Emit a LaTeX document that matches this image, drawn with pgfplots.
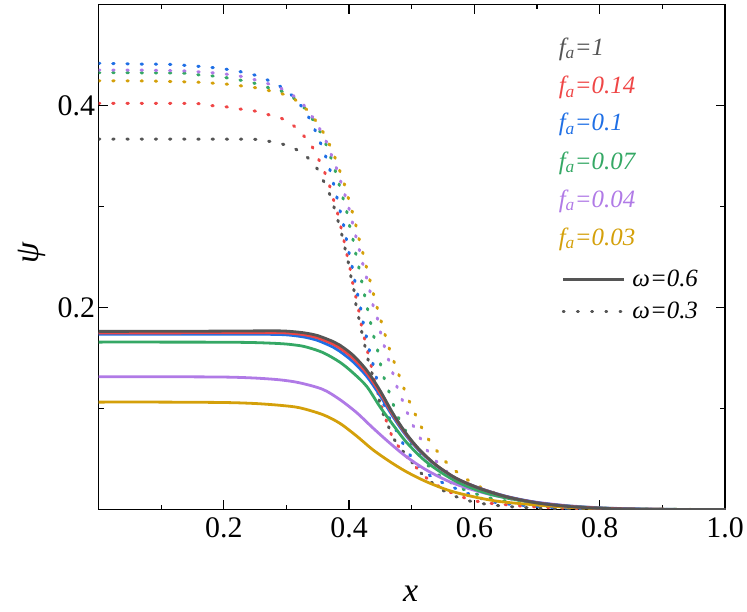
\documentclass[border=0pt]{standalone}
\usepackage{fontspec}
\setmainfont{Liberation Serif}
\usepackage{pgfplots}
\pgfplotsset{compat=1.18}

\definecolor{cGray}{HTML}{555555}
\definecolor{cRed}{HTML}{EF4646}
\definecolor{cBlue}{HTML}{1F6FE5}
\definecolor{cGreen}{HTML}{35A865}
\definecolor{cPurple}{HTML}{B07AE6}
\definecolor{cGold}{HTML}{D4A00A}

\pgfplotsset{
  solidc/.style={line width=2.8bp},
  dotc/.style={line width=3bp, line cap=round, dash pattern=on 1.4bp off 12.8bp},
}

\begin{document}
\begin{tikzpicture}
\begin{axis}[
    scale only axis,
    width=627bp, height=505.5bp,
    xmin=0, xmax=1, ymin=0, ymax=0.5,
    xtick={0.2,0.4,0.6,0.8,1.0},
    minor xtick={0.1,0.3,0.5,0.7,0.9},
    ytick={0.2,0.4},
    minor ytick={0.1,0.3},
    tick align=inside,
    major tick length=9.5bp, minor tick length=5bp,
    every tick/.style={black, line width=1.3bp},
    axis line style={line width=1.3bp},
    /pgf/number format/assume math mode=true,
    every tick label/.append style={font=\fontsize{30}{36}\selectfont},
    xticklabel style={yshift=-5bp, /pgf/number format/.cd, fixed, fixed zerofill, precision=1},
    yticklabel style={/pgf/number format/.cd, fixed, fixed zerofill, precision=1},
    xlabel={\textit{x}},
    ylabel={\textit{ψ}},
    every axis label/.append style={font=\fontsize{34}{40}\selectfont},
    xlabel style={at={(axis description cs:0.498,0)}, anchor=base, yshift=-92bp},
    ylabel style={at={(axis description cs:-0.106,0.509)}, anchor=center},
    legend style={draw=none, fill=none, at={(axis cs:0.739,0.238)}, anchor=north west,
      inner sep=0pt, row sep=12bp, column sep=6bp,
      font=\fontsize{25}{30}\selectfont\itshape, nodes={inner sep=1bp}},
    legend cell align=left,
    legend image code/.code={\draw[#1] (0bp,0bp) -- (61bp,0bp);},
]
\addlegendimage{cGray, line width=2.8bp}
\addlegendentry{ω=0.6}
\addlegendimage{cGray, line width=2.6bp, line cap=round, dash pattern=on 1.2bp off 13bp}
\addlegendentry{ω=0.3}

% omega = 0.3 (dotted)
\addplot[forget plot, cGray, dotc, smooth] coordinates {
(0,0.3668)(0.1,0.3668)(0.2,0.3667)(0.252,0.3665)(0.27,0.3648)(0.289,0.3626)(0.3105,0.3582)
(0.3265,0.352)(0.34,0.3448)(0.3504,0.3361)(0.3584,0.3262)(0.3664,0.3163)(0.3727,0.3054)
(0.3786,0.2939)(0.385,0.28)(0.3903,0.2675)(0.3946,0.2553)(0.3994,0.2428)(0.4037,0.2279)
(0.4085,0.2147)(0.4116,0.2)(0.4169,0.1859)(0.4212,0.1728)(0.4265,0.1586)(0.4317,0.1448)
(0.4381,0.1315)(0.446,0.113)(0.4541,0.0952)(0.463,0.082)(0.4727,0.0688)(0.4887,0.0556)
(0.5019,0.0457)(0.5179,0.0342)(0.5445,0.021)(0.5711,0.0127)(0.5976,0.0077)(0.6295,0.0045)
(0.68,0.002)(0.75,0.0006)(0.85,0.0001)(1,0)};
\addplot[forget plot, cRed, dotc, smooth] coordinates {
(0,0.4022)(0.15,0.402)(0.178,0.4)(0.2,0.399)(0.22,0.397)(0.238,0.3955)(0.254,0.394)
(0.273,0.3906)(0.292,0.3873)(0.31,0.3807)(0.3255,0.3715)(0.341,0.3592)(0.3494,0.3493)
(0.3595,0.3361)(0.368,0.3223)(0.3744,0.3081)(0.3807,0.2955)(0.3861,0.2817)(0.3914,0.2675)
(0.3957,0.2547)(0.401,0.2404)(0.4053,0.2255)(0.4105,0.2114)(0.4153,0.1975)(0.4196,0.1827)
(0.4249,0.1685)(0.4302,0.1547)(0.4356,0.1414)(0.4408,0.1265)(0.4477,0.1117)(0.4541,0.0968)
(0.462,0.0837)(0.47,0.0705)(0.4834,0.0589)(0.4967,0.049)(0.511,0.0391)(0.5275,0.0292)
(0.5445,0.0226)(0.5657,0.016)(0.5871,0.0111)(0.6136,0.0071)(0.6561,0.0045)(0.7,0.0025)
(0.75,0.0012)(0.8,0.0005)(0.9,0.0001)(1,0)};
\addplot[forget plot, cBlue, dotc, smooth] coordinates {
(0,0.4418)(0.07,0.441)(0.11,0.4408)(0.133,0.44)(0.156,0.439)(0.178,0.4378)(0.198,0.4364)
(0.219,0.4345)(0.236,0.432)(0.255,0.4292)(0.272,0.4246)(0.289,0.4193)(0.308,0.4104)
(0.3223,0.4005)(0.3345,0.3896)(0.3451,0.3764)(0.3494,0.3701)(0.3584,0.3566)(0.3664,0.3428)
(0.3727,0.3285)(0.3786,0.3141)(0.3839,0.2998)(0.3898,0.2856)(0.3946,0.2711)(0.3989,0.2569)
(0.4041,0.2428)(0.4085,0.2282)(0.4132,0.2141)(0.418,0.2008)(0.4222,0.1859)(0.4276,0.1711)
(0.4329,0.1562)(0.4385,0.1431)(0.4445,0.1282)(0.4505,0.1134)(0.458,0.1)(0.467,0.087)
(0.4796,0.0738)(0.4887,0.0622)(0.5019,0.05)(0.5153,0.0408)(0.5338,0.0315)(0.5498,0.0265)
(0.5764,0.0193)(0.603,0.0127)(0.6295,0.0077)(0.6561,0.0054)(0.7,0.003)(0.75,0.0014)
(0.8,0.0006)(0.9,0.0001)(1,0)};
\addplot[forget plot, cGreen, dotc, smooth] coordinates {
(0,0.4325)(0.07,0.4324)(0.1405,0.4319)(0.1617,0.4302)(0.183,0.4292)(0.204,0.4275)
(0.2255,0.4252)(0.2458,0.4226)(0.2627,0.4193)(0.28,0.416)(0.2946,0.4137)(0.3159,0.4054)
(0.3292,0.3972)(0.3488,0.3797)(0.3574,0.3691)(0.3654,0.3582)(0.3718,0.3467)(0.3775,0.3361)
(0.3839,0.3223)(0.3893,0.3104)(0.3957,0.2965)(0.3998,0.2834)(0.4053,0.2701)(0.4094,0.2569)
(0.4142,0.2438)(0.4185,0.2305)(0.4233,0.2166)(0.4276,0.2035)(0.4329,0.1893)(0.4372,0.176)
(0.4435,0.1629)(0.4477,0.1513)(0.452,0.1388)(0.4573,0.1275)(0.4637,0.1166)(0.47,0.1051)
(0.4764,0.0936)(0.486,0.0837)(0.494,0.0721)(0.5019,0.0622)(0.5126,0.054)(0.5243,0.0448)
(0.5349,0.0384)(0.5472,0.0325)(0.5632,0.0265)(0.5817,0.0203)(0.6083,0.0144)(0.64,0.0095)
(0.7,0.0045)(0.75,0.0022)(0.8,0.001)(0.9,0.0002)(1,0)};
\addplot[forget plot, cPurple, dotc, smooth] coordinates {
(0,0.4351)(0.07,0.435)(0.138,0.4342)(0.156,0.4335)(0.18,0.4325)(0.2016,0.4312)(0.222,0.4295)
(0.2415,0.4269)(0.26,0.4236)(0.277,0.4203)(0.292,0.4168)(0.3132,0.4087)(0.3265,0.4012)
(0.3372,0.3923)(0.3478,0.383)(0.3558,0.3735)(0.3648,0.3626)(0.3718,0.351)(0.3786,0.3401)
(0.385,0.3279)(0.3914,0.3153)(0.3983,0.3015)(0.4037,0.2883)(0.4089,0.2748)(0.4142,0.2626)
(0.419,0.2503)(0.4244,0.2371)(0.4292,0.2265)(0.434,0.2141)(0.4381,0.2025)(0.4445,0.1909)
(0.4499,0.176)(0.4595,0.1547)(0.4659,0.1431)(0.4764,0.1216)(0.4834,0.1107)(0.4903,0.1002)
(0.4977,0.0886)(0.5062,0.0787)(0.5153,0.0688)(0.5243,0.0589)(0.5365,0.0497)(0.5498,0.0408)
(0.5657,0.0332)(0.5817,0.0265)(0.6083,0.0193)(0.6349,0.0144)(0.67,0.009)(0.72,0.0045)
(0.78,0.0018)(0.85,0.0006)(0.92,0.0001)(1,0)};
\addplot[forget plot, cGold, dotc, smooth] coordinates {
(0,0.4245)(0.08,0.4242)(0.1617,0.423)(0.1845,0.422)(0.2069,0.421)(0.2298,0.4193)
(0.2506,0.4176)(0.268,0.4153)(0.2856,0.413)(0.3026,0.4094)(0.3185,0.4038)(0.3303,0.3972)
(0.3408,0.3899)(0.352,0.38)(0.3611,0.3708)(0.3702,0.3592)(0.3775,0.3483)(0.3839,0.3374)
(0.3903,0.3262)(0.3962,0.3144)(0.401,0.3032)(0.4062,0.2923)(0.4116,0.2794)(0.4158,0.2681)
(0.4212,0.2559)(0.426,0.2438)(0.4308,0.2329)(0.436,0.22)(0.4419,0.2064)(0.4477,0.1933)
(0.453,0.1827)(0.4595,0.1685)(0.4659,0.1562)(0.4727,0.1447)(0.4796,0.1332)(0.486,0.1223)
(0.494,0.1101)(0.5019,0.0992)(0.5099,0.0886)(0.5179,0.0787)(0.5275,0.0688)(0.5392,0.0589)
(0.5509,0.0497)(0.5632,0.0418)(0.5764,0.0351)(0.5923,0.0282)(0.6136,0.021)(0.6349,0.016)
(0.6614,0.0111)(0.7,0.0065)(0.75,0.003)(0.8,0.0013)(0.88,0.0003)(1,0)};

% omega = 0.6 (solid)
\addplot[forget plot, cGold, solidc, smooth] coordinates {
(0,0.1064)(0.1,0.1064)(0.2,0.106)(0.25,0.105)(0.29,0.1032)(0.321,0.1008)(0.358,0.094)
(0.385,0.0855)(0.412,0.0728)(0.438,0.0592)(0.465,0.0475)(0.491,0.0376)(0.523,0.0277)
(0.56,0.0188)(0.598,0.0128)(0.64,0.008)(0.7,0.0045)(0.75,0.0023)(0.8,0.0011)(0.85,0.0005)
(0.9,0.0002)(0.95,0.0001)(1,0)};
\addplot[forget plot, cPurple, solidc, smooth] coordinates {
(0,0.1315)(0.1,0.1315)(0.2,0.1312)(0.25,0.1302)(0.29,0.1284)(0.321,0.1255)(0.358,0.119)
(0.385,0.109)(0.412,0.096)(0.438,0.0808)(0.465,0.0658)(0.491,0.0525)(0.523,0.0393)
(0.56,0.0277)(0.598,0.0195)(0.64,0.013)(0.7,0.0072)(0.75,0.0038)(0.8,0.0018)(0.85,0.0008)
(0.9,0.0003)(0.95,0.0001)(1,0)};
\addplot[forget plot, cGreen, solidc, smooth] coordinates {
(0,0.1658)(0.1,0.1658)(0.2,0.1657)(0.25,0.1653)(0.29,0.1643)(0.31,0.1632)(0.33,0.1612)
(0.358,0.1555)(0.385,0.146)(0.406,0.1355)(0.428,0.122)(0.449,0.102)(0.47,0.084)
(0.491,0.067)(0.518,0.05)(0.545,0.0375)(0.576,0.0263)(0.614,0.0172)(0.651,0.0115)
(0.7,0.0066)(0.75,0.0035)(0.8,0.0017)(0.85,0.0007)(0.9,0.0003)(0.95,0.0001)(1,0)};
\addplot[forget plot, cBlue, solidc, smooth] coordinates {
(0,0.1735)(0.1,0.1735)(0.2,0.1736)(0.25,0.1736)(0.29,0.1733)(0.31,0.1724)(0.33,0.1706)
(0.35,0.1674)(0.374,0.161)(0.385,0.1568)(0.406,0.1465)(0.428,0.132)(0.449,0.1133)
(0.47,0.092)(0.491,0.0733)(0.513,0.0577)(0.539,0.0436)(0.571,0.0309)(0.608,0.0213)
(0.651,0.0131)(0.7,0.007)(0.75,0.0034)(0.8,0.0015)(0.85,0.0006)(0.9,0.0002)(0.95,0.0001)(1,0)};
\addplot[forget plot, cRed, solidc, smooth] coordinates {
(0,0.1748)(0.1,0.1749)(0.2,0.1751)(0.25,0.1752)(0.29,0.1751)(0.31,0.1744)(0.33,0.1729)
(0.35,0.17)(0.374,0.164)(0.385,0.16)(0.406,0.15)(0.428,0.1352)(0.449,0.116)(0.47,0.0938)
(0.491,0.0745)(0.513,0.0584)(0.539,0.0439)(0.571,0.0309)(0.608,0.0211)(0.651,0.0128)
(0.7,0.0067)(0.75,0.0032)(0.8,0.0014)(0.85,0.0005)(0.9,0.0002)(0.95,0.0001)(1,0)};
\addplot[forget plot, cGray, solidc, smooth] coordinates {
(0,0.1764)(0.1,0.1765)(0.2,0.1767)(0.25,0.1769)(0.29,0.1769)(0.31,0.1762)(0.33,0.1748)
(0.35,0.1722)(0.374,0.1665)(0.385,0.1629)(0.406,0.153)(0.428,0.138)(0.449,0.1183)
(0.47,0.0952)(0.491,0.0754)(0.513,0.0589)(0.539,0.0441)(0.571,0.0309)(0.608,0.021)
(0.651,0.0127)(0.7,0.0066)(0.75,0.0031)(0.8,0.0013)(0.85,0.0005)(0.9,0.0002)(0.95,0.0001)(1,0)};

% f_a labels
\begin{scope}[font=\fontsize{25}{30}\selectfont\itshape]
\node[anchor=base west, inner sep=0pt, text=cGray]   at (axis cs:0.7343,0.4500) {f\textsubscript{a}=1};
\node[anchor=base west, inner sep=0pt, text=cRed]    at (axis cs:0.7343,0.4114) {f\textsubscript{a}=0.14};
\node[anchor=base west, inner sep=0pt, text=cBlue]   at (axis cs:0.7343,0.3748) {f\textsubscript{a}=0.1};
\node[anchor=base west, inner sep=0pt, text=cGreen]  at (axis cs:0.7343,0.3371) {f\textsubscript{a}=0.07};
\node[anchor=base west, inner sep=0pt, text=cPurple] at (axis cs:0.7343,0.2995) {f\textsubscript{a}=0.04};
\node[anchor=base west, inner sep=0pt, text=cGold]   at (axis cs:0.7343,0.2619) {f\textsubscript{a}=0.03};
\end{scope}

\coordinate (bl) at (rel axis cs:0,0);
\coordinate (tr) at (rel axis cs:1,1);
\end{axis}
\path ([shift={(-98.6bp,-102bp)}]bl) rectangle ([shift={(21.5bp,4.5bp)}]tr);
\end{tikzpicture}
\end{document}
